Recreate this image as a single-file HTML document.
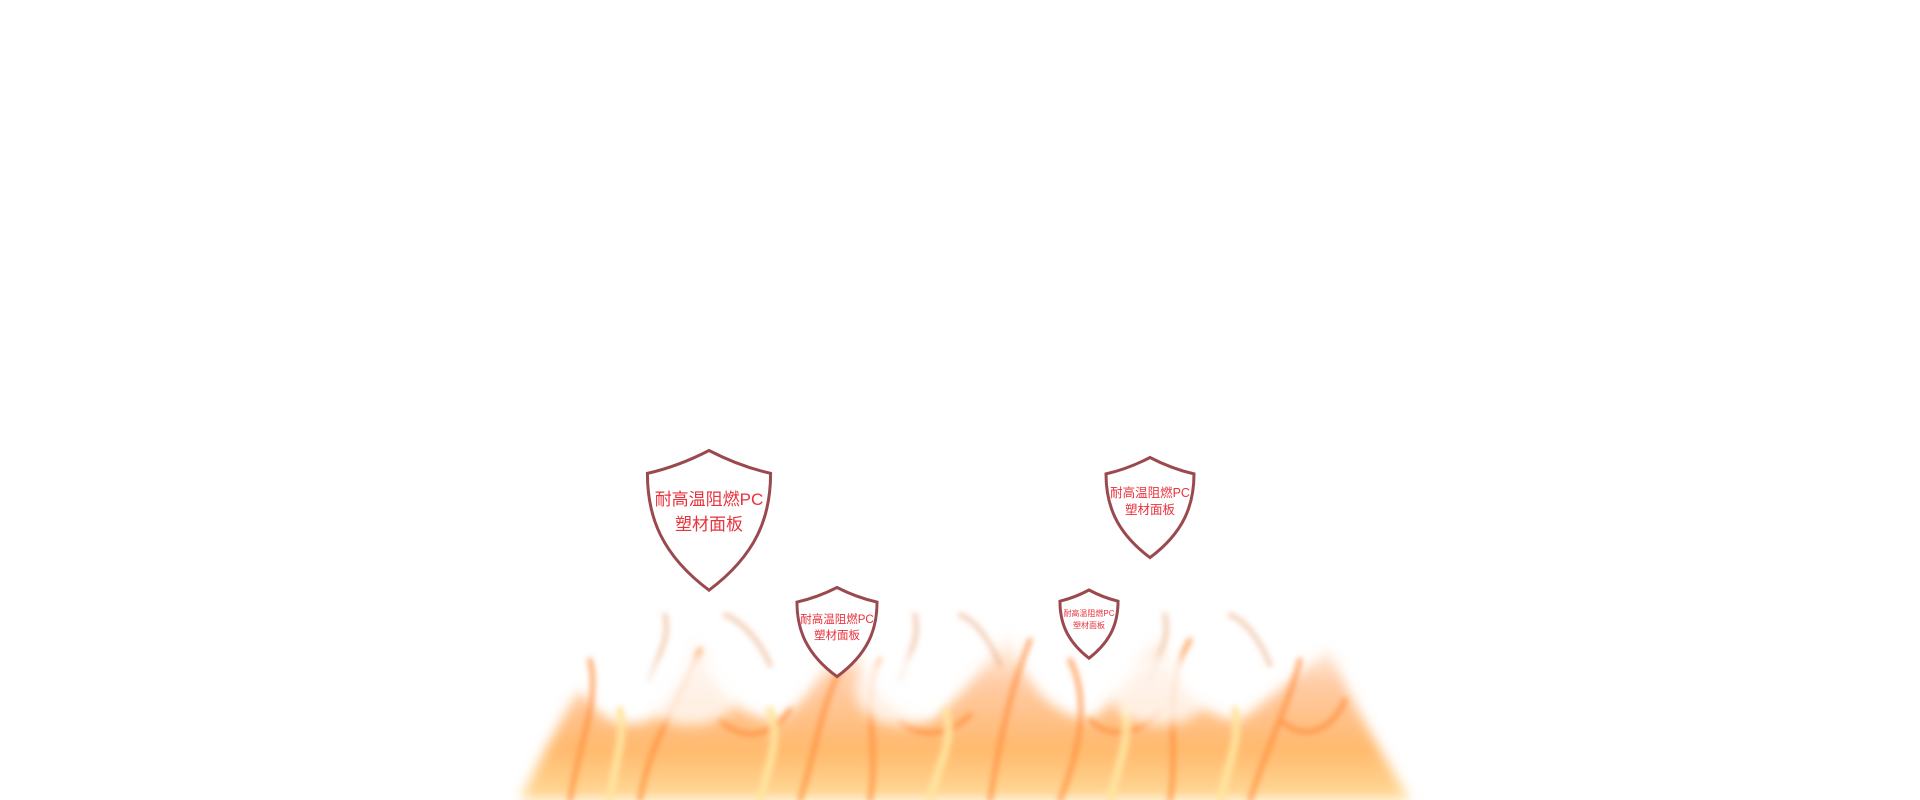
<!DOCTYPE html>
<html><head><meta charset="utf-8"><style>
html,body{margin:0;padding:0;background:#fff;}
svg{display:block}
text{font-family:"Liberation Sans","Noto Sans CJK SC",sans-serif;fill:#e8323c;text-anchor:middle}
</style></head><body>
<svg width="1920" height="800" viewBox="0 0 1920 800" xmlns="http://www.w3.org/2000/svg">
<defs>
<filter id="b6" x="-20%" y="-20%" width="140%" height="140%"><feGaussianBlur stdDeviation="6"/></filter>
<filter id="b3" x="-20%" y="-20%" width="140%" height="140%"><feGaussianBlur stdDeviation="3"/></filter>
<linearGradient id="fg" x1="0" y1="0" x2="0" y2="1">
<stop offset="0" stop-color="#ffb070" stop-opacity="0"/>
<stop offset="0.3" stop-color="#ff9a50" stop-opacity="0.5"/>
<stop offset="0.7" stop-color="#ffa848" stop-opacity="0.8"/>
<stop offset="1" stop-color="#ffd890" stop-opacity="0.9"/>
</linearGradient>
<g id="shield"><path d="M0,-50 C-14,-42 -28,-36 -44,-32 C-44,2 -34,32 0,60 C34,32 44,2 44,-32 C28,-36 14,-42 0,-50 Z" fill="#fff" stroke="#9a4a4e" stroke-width="3" vector-effect="non-scaling-stroke"/></g>
</defs>
<!-- fire base -->
<g filter="url(#b6)">
<path d="M520,800 C540,760 560,720 580,690 C600,720 620,730 650,720 C680,690 690,660 700,640 C710,690 740,720 780,720 C810,700 830,660 850,630 C860,680 890,720 930,720 C960,700 990,660 1010,630 C1020,680 1050,715 1090,720 C1120,700 1140,660 1160,635 C1170,680 1200,720 1240,720 C1270,700 1300,670 1330,650 C1350,700 1380,750 1410,800 Z" fill="url(#fg)"/>
</g>
<g filter="url(#b3)" fill="none" stroke-linecap="round">
<g stroke="#ff8c3a" stroke-width="5" opacity="0.75">
<path d="M570,800 C580,740 600,700 590,660"/>
<path d="M640,800 C650,740 680,700 700,650"/>
<path d="M720,720 C740,740 770,740 790,710"/>
<path d="M800,800 C820,740 820,690 860,640"/>
<path d="M870,800 C880,740 860,700 880,660"/>
<path d="M900,720 C920,740 950,735 970,715"/>
<path d="M990,800 C1000,740 1010,690 1030,640"/>
<path d="M1060,800 C1080,750 1090,700 1070,660"/>
<path d="M1090,720 C1110,740 1140,735 1160,710"/>
<path d="M1170,800 C1180,740 1160,690 1190,640"/>
<path d="M1250,800 C1270,740 1290,700 1300,660"/>
<path d="M1280,720 C1300,740 1330,735 1345,700"/>
</g>
<g stroke="#ffe6a0" stroke-width="8" opacity="0.9">
<path d="M610,800 C615,760 625,740 620,710"/>
<path d="M760,800 C770,760 780,740 770,710"/>
<path d="M930,800 C940,760 955,740 945,710"/>
<path d="M1110,800 C1120,760 1130,740 1125,710"/>
<path d="M1220,800 C1230,760 1240,740 1235,710"/>
</g>
<g stroke="#e8a070" stroke-width="5" opacity="0.5">
<path d="M650,680 C660,650 670,640 665,615"/>
<path d="M725,615 C740,620 760,640 770,665"/>
<path d="M960,615 C975,620 990,640 1000,665"/>
<path d="M1230,615 C1245,620 1260,640 1270,665"/>
<path d="M1150,680 C1160,650 1170,640 1165,615"/>
<path d="M900,680 C910,650 920,640 915,615"/>
</g>
</g>
<g filter="url(#b6)" fill="#fff" opacity="0.75">
<ellipse cx="690" cy="690" rx="50" ry="35"/>
<ellipse cx="900" cy="690" rx="45" ry="35"/>
<ellipse cx="1160" cy="690" rx="50" ry="35"/>
</g>
<!-- shields -->
<g transform="translate(709,514) scale(1.4,1.27)"><use href="#shield"/></g>
<text x="709" y="505" font-size="17">耐高温阻燃PC</text>
<text x="709" y="530" font-size="17">塑材面板</text>
<g transform="translate(837,628) scale(0.91,0.81)"><use href="#shield"/></g>
<text x="837" y="623" font-size="11.5">耐高温阻燃PC</text>
<text x="837" y="639" font-size="11.5">塑材面板</text>
<g transform="translate(1150,503) scale(1.0,0.91)"><use href="#shield"/></g>
<text x="1150" y="497" font-size="12.5">耐高温阻燃PC</text>
<text x="1150" y="514" font-size="12.5">塑材面板</text>
<g transform="translate(1089,621) scale(0.66,0.62)"><use href="#shield"/></g>
<text x="1089" y="616" font-size="8">耐高温阻燃PC</text>
<text x="1089" y="628" font-size="8">塑材面板</text>
</svg>
</body></html>
